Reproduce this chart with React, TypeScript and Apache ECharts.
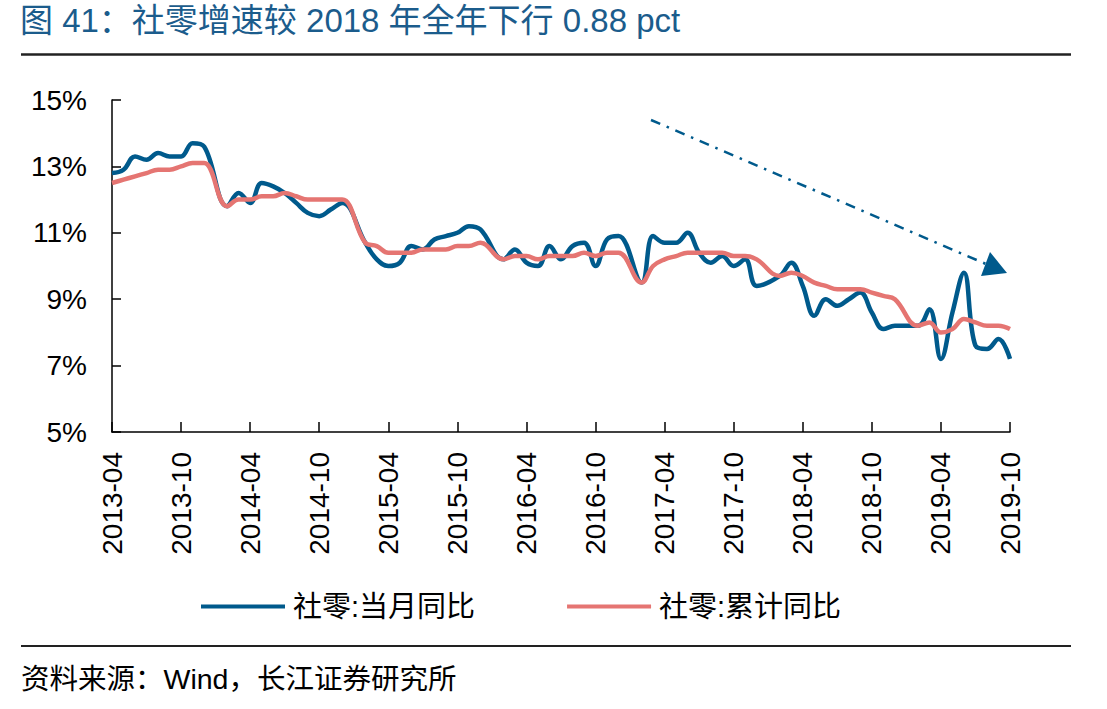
import React, { useEffect, useRef } from "react";
import * as echarts from "echarts";

const months: string[] = [];
for (let y = 2013; y <= 2019; y++) {
  for (let m = 1; m <= 12; m++) {
    if (y === 2013 && m < 4) continue;
    if (y === 2019 && m > 10) continue;
    months.push(`${y}-${m < 10 ? "0" + m : m}`);
  }
}

// 社零:当月同比 (%), January not published (null)
const monthlyYoY: (number | null)[] = [
  12.8, 12.9, 13.3, 13.2, 13.4, 13.3, 13.3, 13.7, 13.6,
  null, 11.8, 12.2, 11.9, 12.5, 12.4, 12.2, 11.9, 11.6, 11.5, 11.7, 11.9,
  null, 10.7, 10.2, 10.0, 10.1, 10.6, 10.5, 10.8, 10.9, 11.0, 11.2, 11.1,
  null, 10.2, 10.5, 10.1, 10.0, 10.6, 10.2, 10.6, 10.7, 10.0, 10.8, 10.9,
  null, 9.5, 10.9, 10.7, 10.7, 11.0, 10.4, 10.1, 10.3, 10.0, 10.2, 9.4,
  null, 9.7, 10.1, 9.4, 8.5, 9.0, 8.8, 9.0, 9.2, 8.6, 8.1, 8.2,
  null, 8.2, 8.7, 7.2, 8.6, 9.8, 7.6, 7.5, 7.8, 7.2,
];

// 社零:累计同比 (%)
const cumulativeYoY: (number | null)[] = [
  12.5, 12.6, 12.7, 12.8, 12.9, 12.9, 13.0, 13.1, 13.1,
  null, 11.8, 12.0, 12.0, 12.1, 12.1, 12.2, 12.1, 12.0, 12.0, 12.0, 12.0,
  null, 10.7, 10.6, 10.4, 10.4, 10.4, 10.5, 10.5, 10.5, 10.6, 10.6, 10.7,
  null, 10.2, 10.3, 10.3, 10.2, 10.3, 10.3, 10.3, 10.4, 10.3, 10.4, 10.4,
  null, 9.5, 10.0, 10.2, 10.3, 10.4, 10.4, 10.4, 10.4, 10.3, 10.3, 10.2,
  null, 9.7, 9.8, 9.7, 9.5, 9.4, 9.3, 9.3, 9.3, 9.2, 9.1, 9.0,
  null, 8.2, 8.3, 8.0, 8.1, 8.4, 8.3, 8.2, 8.2, 8.1,
];

const seriesNames = ["社零:当月同比", "社零:累计同比"];
const titleText = "图 41：社零增速较 2018 年全年下行 0.88 pct";
const sourceText = "资料来源：Wind，长江证券研究所";

const BLUE = "#005A8C";
const RED = "#E57572";
const FONT = "'Liberation Sans', 'Noto Sans CJK SC', sans-serif";

export default function App() {
  const ref = useRef<HTMLDivElement>(null);
  useEffect(() => {
    document.body.style.margin = "0";
    if (!ref.current) return;
    const chart = echarts.init(ref.current, null, { renderer: "svg" });
    chart.setOption({
      animation: false,
      backgroundColor: "#ffffff",
      textStyle: { fontFamily: FONT },
      grid: { left: 112, top: 100, width: 898, height: 332, containLabel: false },
      legend: {
        left: 196,
        top: 587,
        itemWidth: 84,
        itemHeight: 4,
        itemGap: 92,
        icon: "rect",
        data: seriesNames,
        textStyle: { fontSize: 29, color: "#000", fontFamily: FONT, padding: [0, 0, 0, 3] },
      },
      xAxis: {
        type: "category",
        data: months,
        boundaryGap: false,
        axisLine: { lineStyle: { color: "#000", width: 1.5 } },
        axisTick: { inside: true, length: 10, interval: 5, lineStyle: { color: "#000", width: 1.5 } },
        axisLabel: { interval: 5, rotate: 90, fontSize: 28, color: "#000", margin: 20, fontFamily: FONT },
        splitLine: { show: false },
      },
      yAxis: {
        type: "value",
        min: 5,
        max: 15,
        interval: 2,
        axisLine: { show: true, lineStyle: { color: "#000", width: 1.5 } },
        axisTick: { show: true, inside: true, length: 9, lineStyle: { color: "#000", width: 1.5 } },
        axisLabel: { formatter: "{value}%", fontSize: 28, color: "#000", margin: 25, fontFamily: FONT },
        splitLine: { show: false },
      },
      series: [
        {
          name: seriesNames[0],
          type: "line",
          data: monthlyYoY,
          connectNulls: true,
          smooth: 0.4,
          symbol: "none",
          lineStyle: { color: BLUE, width: 4.5 },
          itemStyle: { color: BLUE },
        },
        {
          name: seriesNames[1],
          type: "line",
          data: cumulativeYoY,
          connectNulls: true,
          smooth: 0.4,
          symbol: "none",
          lineStyle: { color: RED, width: 4.5 },
          itemStyle: { color: RED },
        },
      ],
      graphic: [
        {
          type: "text",
          left: 20,
          top: 4,
          style: { text: titleText, fontSize: 33, fill: "#1B5C8C", fontFamily: FONT },
        },
        {
          type: "line",
          shape: { x1: 21, y1: 54.5, x2: 1071, y2: 54.5 },
          style: { stroke: "#222", lineWidth: 2.5 },
        },
        {
          type: "line",
          shape: { x1: 21, y1: 646, x2: 1071, y2: 646 },
          style: { stroke: "#222", lineWidth: 2 },
        },
        {
          type: "text",
          left: 21,
          top: 665,
          style: { text: sourceText, fontSize: 28.5, fill: "#000", fontFamily: FONT },
        },
        {
          type: "line",
          shape: { x1: 651, y1: 120, x2: 986, y2: 264 },
          style: { stroke: BLUE, lineWidth: 2.5, lineDash: [10, 7, 2.5, 7] },
        },
        {
          type: "polygon",
          shape: { points: [[1007, 273], [990, 252], [981, 276]] },
          style: { fill: BLUE },
        },
      ],
    });
    return () => chart.dispose();
  }, []);
  return <div ref={ref} style={{ width: 1107, height: 709 }} />;
}
